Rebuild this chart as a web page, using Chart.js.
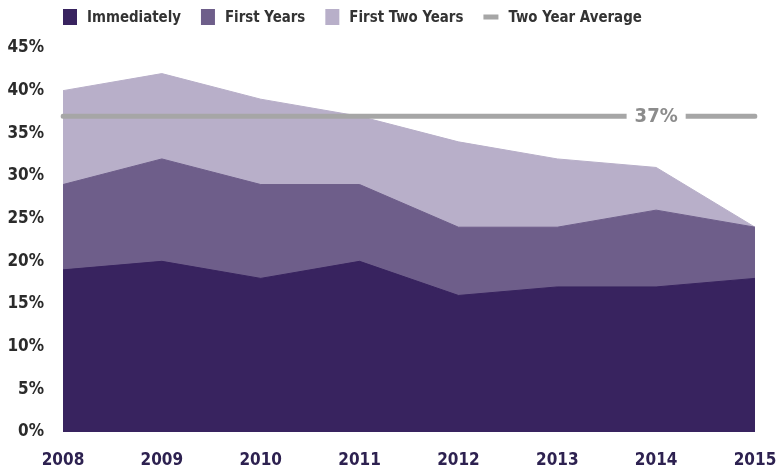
<!DOCTYPE html>
<html>
<head>
<meta charset="utf-8">
<script src="https://cdn.jsdelivr.net/npm/chart.js@4.4.1/dist/chart.umd.min.js"></script>
<style>
  html, body { margin: 0; padding: 0; background: #fff; }
  #wrap { width: 782px; height: 470px; position: relative; }
</style>
</head>
<body>
<div id="wrap"><canvas id="chart"></canvas></div>
<script>
// ===== Data =====
const years = ['2008', '2009', '2010', '2011', '2012', '2013', '2014', '2015'];
const immediately = [19, 20, 18, 20, 16, 17, 17, 18];
const firstYears = [29, 32, 29, 29, 24, 24, 26, 24];
const firstTwoYears = [40, 42, 39, 37, 34, 32, 31, 24];
const twoYearAverage = 37;
const averageLabelYear = '2014';
const yTicks = [0, 5, 10, 15, 20, 25, 30, 35, 40, 45];

// ===== Styles =====
const FONT = '"Liberation Sans Narrow", "DejaVu Sans Condensed", sans-serif';
const colors = {
  immediately: '#38235f',
  firstYears: '#6e5e8a',
  firstTwoYears: '#b8afc9',
  average: '#a6a6a6'
};

function areaSet(label, data, color) {
  return {
    label, data,
    backgroundColor: color,
    borderColor: color,
    borderWidth: 1,
    fill: 'origin',
    pointRadius: 0,
    tension: 0
  };
}

// ===== Custom legend (drawn on canvas) =====
const legendPlugin = {
  id: 'topLegend',
  afterDraw(chart) {
    const ctx = chart.ctx;
    ctx.save();
    ctx.font = 'bold 16px ' + FONT;
    ctx.textBaseline = 'middle';
    const squeeze = 0.93; // source font is narrower than what we have
    let x = 63;
    const y = 17;
    chart.data.datasets.forEach(ds => {
      if (ds.isAverage) {
        ctx.fillStyle = colors.average;
        ctx.fillRect(x, y - 2.5, 15, 5);
        x += 15 + 10;
      } else {
        ctx.fillStyle = ds.backgroundColor;
        ctx.fillRect(x, y - 8, 14, 16);
        x += 14 + 10;
      }
      ctx.fillStyle = '#333';
      ctx.save();
      ctx.translate(x, y + 1);
      ctx.scale(squeeze, 1);
      ctx.fillText(ds.label, 0, 0);
      ctx.restore();
      x += ctx.measureText(ds.label).width * squeeze + 20;
    });
    ctx.restore();
  }
};

// ===== Average label with a gap in the line =====
const avgLabelPlugin = {
  id: 'avgLabel',
  afterDatasetsDraw(chart) {
    const ctx = chart.ctx;
    const xs = chart.scales.x;
    const ys = chart.scales.y;
    const cx = xs.getPixelForValue(years.indexOf(averageLabelYear));
    const cy = ys.getPixelForValue(twoYearAverage);
    const text = twoYearAverage + '%';
    ctx.save();
    ctx.font = 'bold 20px ' + FONT;
    const w = ctx.measureText(text).width;
    ctx.fillStyle = '#fff';
    ctx.fillRect(cx - w / 2 - 8, cy - 6, w + 16, 12);
    ctx.fillStyle = '#8c8c8c';
    ctx.textAlign = 'center';
    ctx.textBaseline = 'middle';
    ctx.fillText(text, cx, cy + 1);
    ctx.restore();
  }
};

// ===== Chart =====
new Chart(document.getElementById('chart'), {
  type: 'line',
  data: {
    labels: years,
    datasets: [
      areaSet('Immediately', immediately, colors.immediately),
      areaSet('First Years', firstYears, colors.firstYears),
      areaSet('First Two Years', firstTwoYears, colors.firstTwoYears),
      {
        label: 'Two Year Average',
        isAverage: true,
        data: years.map(() => twoYearAverage),
        borderColor: colors.average,
        borderWidth: 5,
        borderCapStyle: 'round',
        fill: false,
        pointRadius: 0,
        order: -1
      }
    ]
  },
  options: {
    responsive: true,
    maintainAspectRatio: false,
    animation: false,
    layout: { padding: { top: 48, left: 0, right: 27, bottom: 0 } },
    plugins: {
      legend: { display: false },
      tooltip: { enabled: false }
    },
    scales: {
      x: {
        offset: false,
        grid: { display: false, drawTicks: false },
        border: { display: false },
        afterFit: axis => {
          axis.height = 38;
          axis.paddingLeft = 0;
          axis.paddingRight = 0;
        },
        ticks: {
          autoSkip: false,
          maxRotation: 0,
          padding: 18,
          color: '#2d2150',
          font: { family: FONT, size: 17, weight: 'bold' }
        }
      },
      y: {
        min: 0,
        max: 45,
        afterBuildTicks: axis => { axis.ticks = yTicks.map(v => ({ value: v })); },
        afterFit: axis => { axis.width = 63; },
        grid: { display: false, drawTicks: false },
        border: { display: false },
        ticks: {
          padding: 19,
          color: '#2b2b2b',
          font: { family: FONT, size: 17, weight: 'bold' },
          callback: v => v + '%'
        }
      }
    }
  },
  plugins: [legendPlugin, avgLabelPlugin]
});
</script>
</body>
</html>
